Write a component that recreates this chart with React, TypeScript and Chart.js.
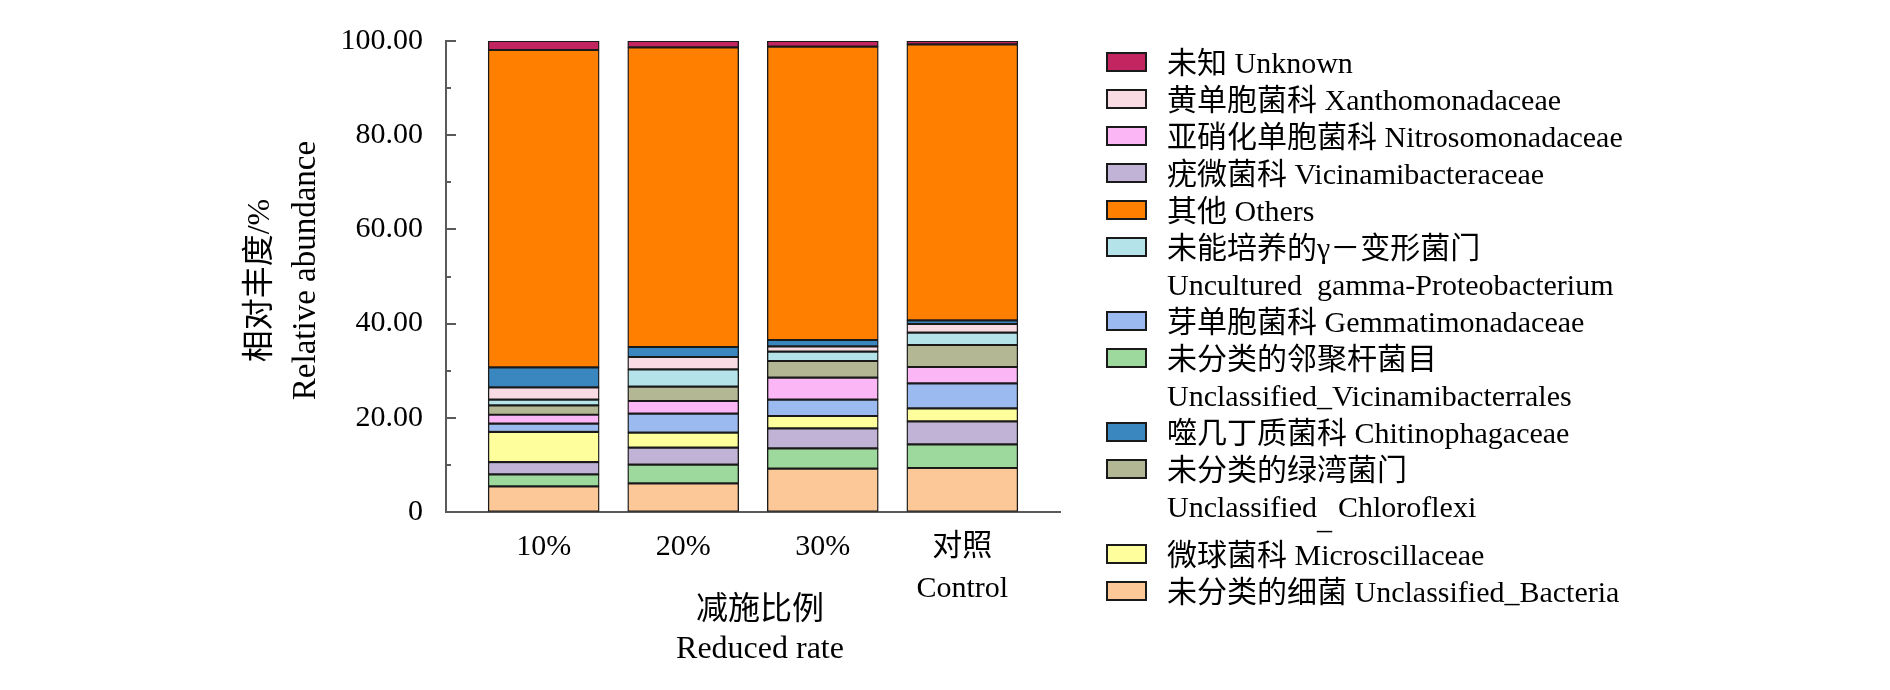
import { useEffect, useRef } from "react";
import { Chart, registerables, type Plugin } from "chart.js";

Chart.register(...registerables);

const FONT = "'Liberation Serif', 'Noto Sans CJK SC', serif";
const AXIS_COLOR = "#5a5a5a";
const BAR_EDGE = "#1a1a1a";

// x categories, the last one is a two-line label
const categories: (string | string[])[] = ["10%", "20%", "30%", ["对照", "Control"]];
const yTickLabels = ["0", "20.00", "40.00", "60.00", "80.00", "100.00"];
const yTitle = ["相对丰度/%", "Relative abundance"];
const xTitle = ["减施比例", "Reduced rate"];

// relative abundance (%), listed from the bottom of the stack to the top
const unclassifiedBacteria = [5.45, 6.09, 9.2, 9.34];
const unclassifiedVicinamibacterrales = [2.55, 3.96, 4.32, 5.03];
const vicinamibacteraceae = [2.6, 3.61, 4.24, 4.88];
const microscillaceae = [6.4, 3.18, 2.62, 2.76];
const gemmatimonadaceae = [1.75, 4.04, 3.47, 5.31];
const nitrosomonadaceae = [1.9, 2.69, 4.67, 3.47];
const unclassifiedChloroflexi = [2.0, 3.04, 3.54, 4.67];
const unculturedGammaProteo = [1.2, 3.68, 1.98, 2.61];
const xanthomonadaceae = [2.6, 2.62, 1.13, 1.85];
const chitinophagaceae = [4.25, 2.12, 1.35, 0.77];
const others = [67.4, 63.63, 62.28, 58.6];
const unknown = [1.9, 1.34, 1.2, 0.71];

const stackSeries = [
  unclassifiedBacteria,
  unclassifiedVicinamibacterrales,
  vicinamibacteraceae,
  microscillaceae,
  gemmatimonadaceae,
  nitrosomonadaceae,
  unclassifiedChloroflexi,
  unculturedGammaProteo,
  xanthomonadaceae,
  chitinophagaceae,
  others,
  unknown,
];

const stackNames: string[][] = [
  ["未分类的细菌 Unclassified_Bacteria"],
  ["未分类的邻聚杆菌目", "Unclassified_Vicinamibacterrales"],
  ["疣微菌科 Vicinamibacteraceae"],
  ["微球菌科 Microscillaceae"],
  ["芽单胞菌科 Gemmatimonadaceae"],
  ["亚硝化单胞菌科 Nitrosomonadaceae"],
  ["未分类的绿湾菌门", "Unclassified\u00a0\u00a0\u2009Chloroflexi"],
  ["未能培养的γ－变形菌门", "Uncultured\u00a0\u00a0gamma-Proteobacterium"],
  ["黄单胞菌科 Xanthomonadaceae"],
  ["噬几丁质菌科 Chitinophagaceae"],
  ["其他 Others"],
  ["未知 Unknown"],
];

const stackColors = [
  "#fdc897",
  "#9dd89c",
  "#c0b3d6",
  "#fefe9c",
  "#9bbaf0",
  "#fbb6f5",
  "#b3b794",
  "#b4e4ea",
  "#f9dbe4",
  "#3a87c0",
  "#ff8000",
  "#c2255f",
];

// legend rows, top to bottom, as indexes into the stack
const legendOrder = [11, 8, 5, 2, 10, 7, 4, 1, 9, 6, 3, 0];
// the chloroflexi label has its underscore dropped onto the line below
const detachedUnderscore = 6;

const axisDecor: Plugin<"bar"> = {
  id: "axisDecor",
  afterDraw(chart) {
    const { ctx, chartArea, scales } = chart;
    const y = scales.y;
    ctx.save();

    // inward ticks, long at labelled values
    ctx.strokeStyle = AXIS_COLOR;
    ctx.lineWidth = 2;
    for (const t of y.ticks) {
      const py = Math.round(y.getPixelForValue(t.value));
      const len = t.value % 20 === 0 ? 10 : 5;
      ctx.beginPath();
      ctx.moveTo(chartArea.left, py);
      ctx.lineTo(chartArea.left + len, py);
      ctx.stroke();
    }

    ctx.fillStyle = "#000";
    ctx.textAlign = "center";
    ctx.textBaseline = "middle";

    // y title, rotated
    const midY = (chartArea.top + chartArea.bottom) / 2;
    ctx.save();
    ctx.translate(chartArea.left - 185, midY + 4);
    ctx.rotate(-Math.PI / 2);
    ctx.font = `32px ${FONT}`;
    ctx.fillText(yTitle[0], 0, 0);
    ctx.restore();
    ctx.save();
    ctx.translate(chartArea.left - 140, midY - 6);
    ctx.rotate(-Math.PI / 2);
    ctx.font = `33px ${FONT}`;
    ctx.fillText(yTitle[1], 0, 0);
    ctx.restore();

    // x title
    const midX = (chartArea.left + chartArea.right) / 2 + 7;
    ctx.font = `32px ${FONT}`;
    ctx.fillText(xTitle[0], midX, chartArea.bottom + 99);
    ctx.fillText(xTitle[1], midX, chartArea.bottom + 138);

    ctx.restore();
  },
};

function Legend() {
  return (
    <div
      style={{
        position: "absolute",
        left: 1106,
        top: 43.5,
        fontFamily: FONT,
        fontSize: 30,
        color: "#000",
      }}
    >
      {legendOrder.map((si) => (
        <div
          key={si}
          style={{
            display: "flex",
            alignItems: "flex-start",
            marginBottom: si === detachedUnderscore ? 11 : 0,
          }}
        >
          <div
            style={{
              width: 41,
              height: 20,
              marginTop: 8.5,
              boxSizing: "border-box",
              border: "2px solid #1a1a1a",
              background: stackColors[si],
              flexShrink: 0,
            }}
          />
          <div style={{ marginLeft: 20 }}>
            {stackNames[si].map((line, k) => (
              <div key={k} style={{ lineHeight: "37px", whiteSpace: "pre", position: "relative" }}>
                {line}
                {si === detachedUnderscore && k === 1 && (
                  <span style={{ position: "absolute", left: "5em", top: 12 }}>_</span>
                )}
              </div>
            ))}
          </div>
        </div>
      ))}
    </div>
  );
}

export default function App() {
  const canvasRef = useRef<HTMLCanvasElement>(null);

  useEffect(() => {
    if (!canvasRef.current) return;
    Chart.defaults.font.family = FONT;

    const chart = new Chart(canvasRef.current, {
      type: "bar",
      data: {
        datasets: stackSeries.map((values, i) => ({
          label: stackNames[i].join(" "),
          data: values.map((v, j) => ({ x: j + 1, y: v })),
          backgroundColor: stackColors[i],
          borderColor: BAR_EDGE,
          borderWidth: 1.4,
          borderSkipped: false,
          barThickness: 111,
        })),
      },
      options: {
        animation: false,
        responsive: true,
        maintainAspectRatio: false,
        layout: { padding: { top: 40, right: 830, bottom: 0, left: 0 } },
        plugins: {
          legend: { display: false },
          tooltip: { enabled: false },
        },
        scales: {
          x: {
            type: "linear",
            stacked: true,
            offset: false,
            min: 0.3,
            max: 4.7,
            afterFit: (s) => {
              s.height = 178;
            },
            afterBuildTicks: (s) => {
              s.ticks = categories.map((_, i) => ({ value: i + 1 }));
            },
            grid: { display: true, offset: false, drawOnChartArea: false, drawTicks: false },
            border: { display: true, color: AXIS_COLOR, width: 2 },
            ticks: {
              autoSkip: false,
              maxRotation: 0,
              padding: 15,
              color: "#000",
              font: { family: FONT, size: 30, lineHeight: 1.37 },
              callback: (v) => categories[Number(v) - 1] ?? "",
            },
          },
          y: {
            stacked: true,
            min: 0,
            max: 100,
            afterFit: (s) => {
              s.width = 446;
            },
            grid: { display: true, drawOnChartArea: false, drawTicks: false },
            border: { display: true, color: AXIS_COLOR, width: 2 },
            ticks: {
              stepSize: 10,
              autoSkip: false,
              padding: 23,
              color: "#000",
              font: { family: FONT, size: 30 },
              callback: (v) => (Number(v) % 20 === 0 ? yTickLabels[Number(v) / 20] : ""),
            },
          },
        },
      },
      plugins: [axisDecor],
    });

    return () => {
      chart.destroy();
    };
  }, []);

  return (
    <div
      style={{
        position: "fixed",
        left: 0,
        top: 0,
        width: 1890,
        height: 690,
        background: "#fff",
      }}
    >
      <canvas ref={canvasRef} />
      <Legend />
    </div>
  );
}
